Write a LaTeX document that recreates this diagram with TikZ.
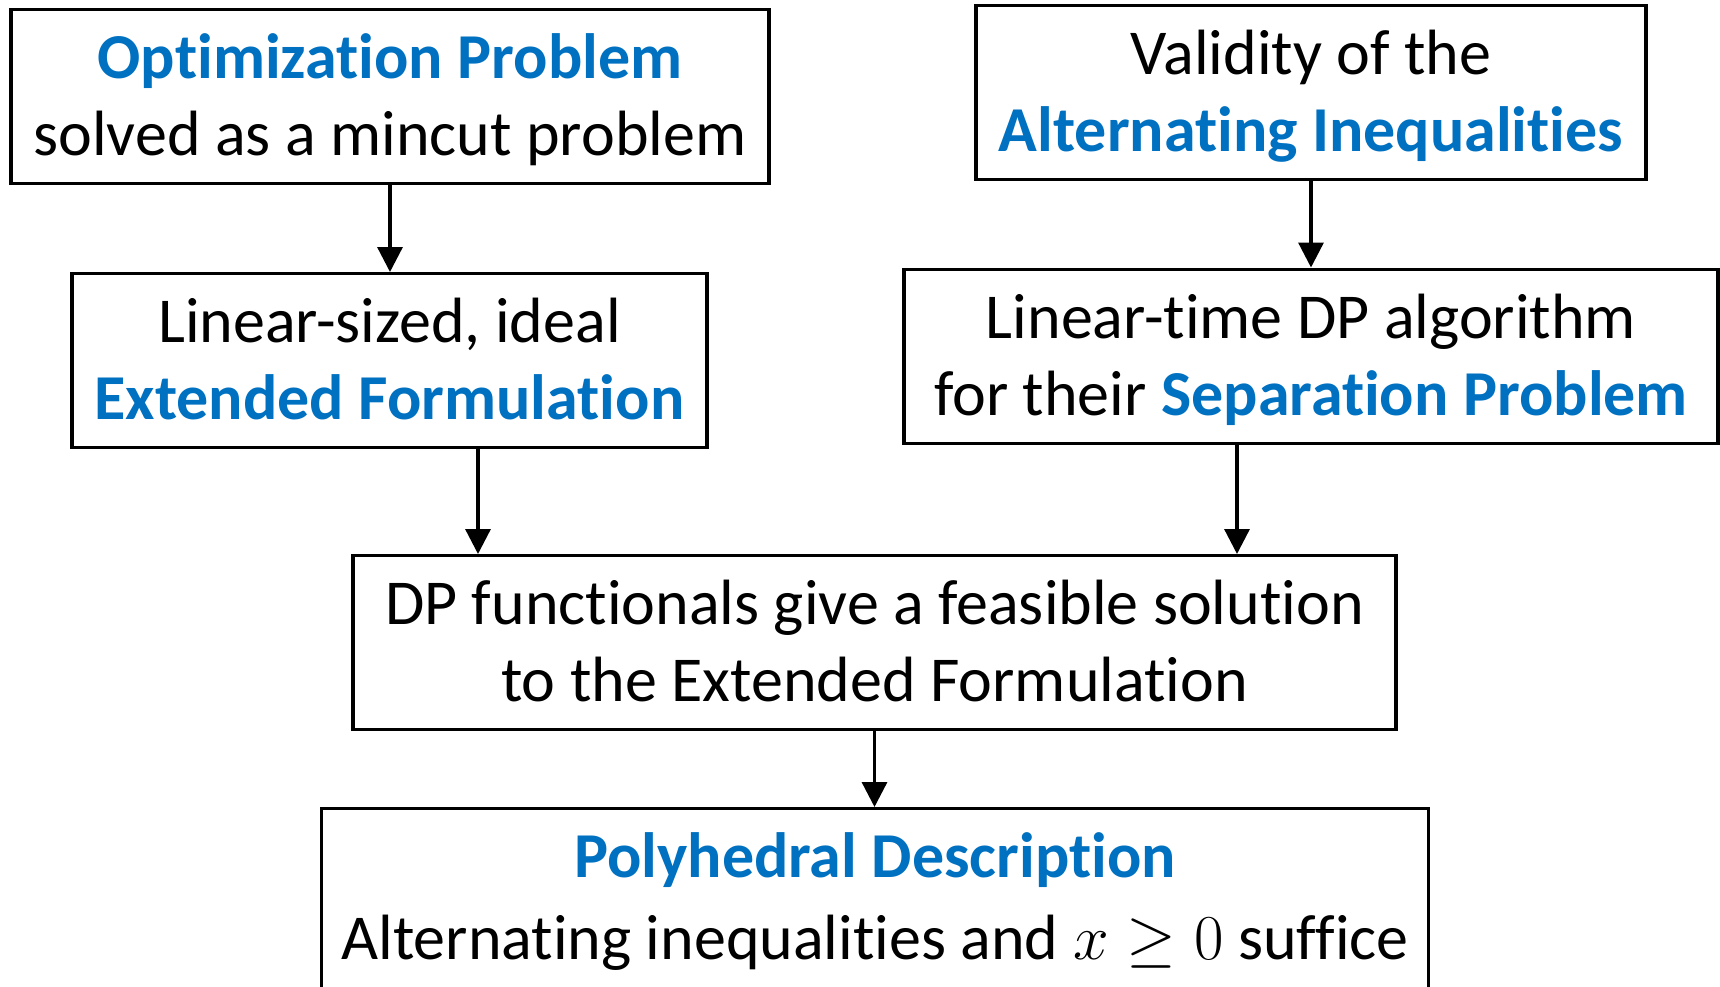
\documentclass[tikz,border=0pt]{standalone}
\usepackage{fix-cm}
\usepackage{fontspec}
\setmainfont{Carlito}[Ligatures=NoCommon]
\usepackage{xcolor}
\usepackage{tikz}
\usetikzlibrary{arrows.meta,positioning}
\definecolor{keyc}{HTML}{0070C0}
\tikzset{
  ar/.style={-{Triangle[length=12.5pt,width=12.5pt]},line width=1.65pt},
  box/.style={draw,line width=1.65pt,align=center,inner sep=0pt,anchor=north,font=\fontsize{32}{38.5}\selectfont}
}
\newcommand{\kw}[1]{\textcolor{keyc}{\textbf{#1}}}
\newcommand{\topst}{\rule{0pt}{34.5pt}}
\newcommand{\botst}[1][14pt]{\rule[-#1]{0pt}{0pt}}

\begin{document}
\begin{tikzpicture}[x=0.5pt,y=-0.5pt]
\clip (0,0) rectangle (1720,986);
\node[box,minimum width=379pt] (opt) at (390,8) {\topst\kw{Optimization Problem}\\solved as a mincut problem\botst};
\node[box,minimum width=335pt] (val) at (1311,4) {\topst Validity of the\\\kw{Alternating Inequalities}\botst};
\node[box,minimum width=317.5pt] (ext) at (389.5,272) {\topst Linear-sized, ideal\\\kw{Extended Formulation}\botst};
\node[box,minimum width=407pt] (sep) at (1311,267.5) {\topst Linear-time DP algorithm\\for their \kw{Separation Problem}\botst};
\node[box,minimum width=521.5pt] (feas) at (874.5,554) {\topst DP functionals give a feasible solution\\to the Extended Formulation\botst};
\node[box,minimum width=553.5pt] (poly) at (875,807) {\topst\kw{Polyhedral Description}\\[2.5pt]Alternating inequalities and $x\geq 0$ suffice\botst[60pt]};
% connectors
\draw[ar] (opt.south) -- (opt.south |- ext.north);
\draw[ar] (val.south) -- (val.south |- sep.north);
\draw[ar] ([xshift=44.25pt]ext.south) -- ([xshift=44.25pt]ext.south |- feas.north);
\draw[ar] ([xshift=-37pt]sep.south) -- ([xshift=-37pt]sep.south |- feas.north);
\draw[ar] (feas.south) -- (feas.south |- poly.north);
\end{tikzpicture}
\end{document}
